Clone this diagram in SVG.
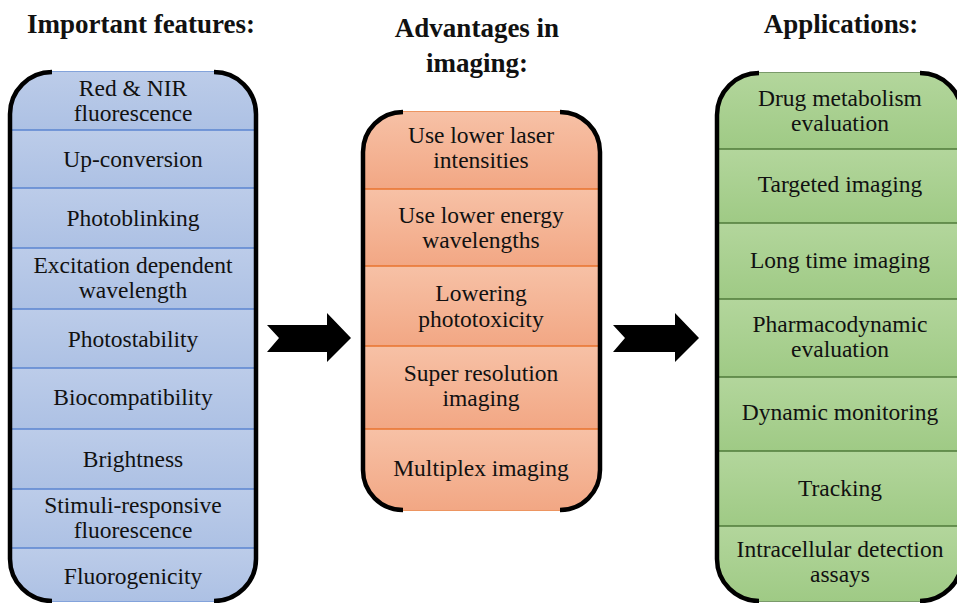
<svg xmlns="http://www.w3.org/2000/svg" width="957" height="603" viewBox="0 0 957 603">
<defs>
<style>
text{font-family:'Liberation Serif','Tinos','DejaVu Serif','Noto Serif',serif;fill:#111;text-anchor:middle}
.t{font-size:23.5px}
.h{font-size:27px;font-weight:bold}
.frame{fill:none;stroke:#000;stroke-width:4.5}
.sb{stroke:#5b85d0;stroke-width:1.5}
.so{stroke:#e8732e;stroke-width:1.5}
.sg{stroke:#4f7a3a;stroke-width:1.5}
.arrow{fill:#000}
</style>
<clipPath id="cl"><rect x="10" y="72" width="246" height="529" rx="42"/></clipPath>
<clipPath id="cm"><rect x="363" y="112" width="237" height="398" rx="40"/></clipPath>
<clipPath id="cr"><rect x="717" y="73" width="245" height="528" rx="42"/></clipPath>
<linearGradient id="gb" x1="0" y1="0" x2="0" y2="1"><stop offset="0" stop-color="#bccce9"/><stop offset="1" stop-color="#adc1e4"/></linearGradient>
<linearGradient id="go" x1="0" y1="0" x2="0" y2="1"><stop offset="0" stop-color="#f7c1a6"/><stop offset="1" stop-color="#f2a784"/></linearGradient>
<linearGradient id="gg" x1="0" y1="0" x2="0" y2="1"><stop offset="0" stop-color="#b3d69c"/><stop offset="1" stop-color="#9fca85"/></linearGradient>
</defs>
<rect width="957" height="603" fill="#fff"/>

<g id="titles">
<text class="h" x="141" y="33">Important features:</text>
<text class="h" x="477" y="37">Advantages in</text>
<text class="h" x="477" y="72">imaging:</text>
<text class="h" x="841" y="33">Applications:</text>
</g>

<g id="col-features">
<rect x="10" y="72" width="246" height="529" rx="42" fill="#b4c7e7" stroke="#5b85d0" stroke-width="1.5"/>
<g clip-path="url(#cl)">
<g id="f1"><rect x="10" y="72" width="246" height="58" fill="url(#gb)"/><text class="t" x="133" y="96">Red &amp; NIR</text><text class="t" x="133" y="121">fluorescence</text></g>
<g id="f2"><rect x="10" y="130" width="246" height="58" fill="url(#gb)"/><line class="sb" x1="10" y1="130" x2="256" y2="130"/><text class="t" x="133" y="167">Up-conversion</text></g>
<g id="f3"><rect x="10" y="188" width="246" height="60" fill="url(#gb)"/><line class="sb" x1="10" y1="188" x2="256" y2="188"/><text class="t" x="133" y="226">Photoblinking</text></g>
<g id="f4"><rect x="10" y="248" width="246" height="61" fill="url(#gb)"/><line class="sb" x1="10" y1="248" x2="256" y2="248"/><text class="t" x="133" y="273">Excitation dependent</text><text class="t" x="133" y="298">wavelength</text></g>
<g id="f5"><rect x="10" y="309" width="246" height="59" fill="url(#gb)"/><line class="sb" x1="10" y1="309" x2="256" y2="309"/><text class="t" x="133" y="347">Photostability</text></g>
<g id="f6"><rect x="10" y="368" width="246" height="61" fill="url(#gb)"/><line class="sb" x1="10" y1="368" x2="256" y2="368"/><text class="t" x="133" y="405">Biocompatibility</text></g>
<g id="f7"><rect x="10" y="429" width="246" height="60" fill="url(#gb)"/><line class="sb" x1="10" y1="429" x2="256" y2="429"/><text class="t" x="133" y="467">Brightness</text></g>
<g id="f8"><rect x="10" y="489" width="246" height="59" fill="url(#gb)"/><line class="sb" x1="10" y1="489" x2="256" y2="489"/><text class="t" x="133" y="513">Stimuli-responsive</text><text class="t" x="133" y="538">fluorescence</text></g>
<g id="f9"><rect x="10" y="548" width="246" height="53" fill="url(#gb)"/><line class="sb" x1="10" y1="548" x2="256" y2="548"/><text class="t" x="133" y="584">Fluorogenicity</text></g>
</g>
<path class="frame" d="M52,72 A42,42 0 0 0 10,114 V559 A42,42 0 0 0 52,601 M214,72 A42,42 0 0 1 256,114 V559 A42,42 0 0 1 214,601"/>
</g>

<g id="col-advantages">
<rect x="363" y="112" width="237" height="398" rx="40" fill="#f4b393" stroke="#e8732e" stroke-width="1.5"/>
<g clip-path="url(#cm)">
<g id="a1"><rect x="363" y="112" width="237" height="77" fill="url(#go)"/><text class="t" x="481" y="143">Use lower laser</text><text class="t" x="481" y="168">intensities</text></g>
<g id="a2"><rect x="363" y="189" width="237" height="77" fill="url(#go)"/><line class="so" x1="363" y1="189" x2="600" y2="189"/><text class="t" x="481" y="223">Use lower energy</text><text class="t" x="481" y="248">wavelengths</text></g>
<g id="a3"><rect x="363" y="266" width="237" height="80" fill="url(#go)"/><line class="so" x1="363" y1="266" x2="600" y2="266"/><text class="t" x="481" y="301">Lowering</text><text class="t" x="481" y="327">phototoxicity</text></g>
<g id="a4"><rect x="363" y="346" width="237" height="83" fill="url(#go)"/><line class="so" x1="363" y1="346" x2="600" y2="346"/><text class="t" x="481" y="381">Super resolution</text><text class="t" x="481" y="406">imaging</text></g>
<g id="a5"><rect x="363" y="429" width="237" height="81" fill="url(#go)"/><line class="so" x1="363" y1="429" x2="600" y2="429"/><text class="t" x="481" y="476">Multiplex imaging</text></g>
</g>
<path class="frame" d="M403,112 A40,40 0 0 0 363,152 V470 A40,40 0 0 0 403,510 M560,112 A40,40 0 0 1 600,152 V470 A40,40 0 0 1 560,510"/>
</g>

<g id="col-applications">
<rect x="717" y="73" width="245" height="528" rx="42" fill="#a9d18e" stroke="#4f7a3a" stroke-width="1.5"/>
<g clip-path="url(#cr)">
<g id="p1"><rect x="717" y="73" width="245" height="76" fill="url(#gg)"/><text class="t" x="840" y="106">Drug metabolism</text><text class="t" x="840" y="131">evaluation</text></g>
<g id="p2"><rect x="717" y="149" width="245" height="74" fill="url(#gg)"/><line class="sg" x1="717" y1="149" x2="962" y2="149"/><text class="t" x="840" y="192">Targeted imaging</text></g>
<g id="p3"><rect x="717" y="223" width="245" height="76" fill="url(#gg)"/><line class="sg" x1="717" y1="223" x2="962" y2="223"/><text class="t" x="840" y="268">Long time imaging</text></g>
<g id="p4"><rect x="717" y="299" width="245" height="78" fill="url(#gg)"/><line class="sg" x1="717" y1="299" x2="962" y2="299"/><text class="t" x="840" y="332">Pharmacodynamic</text><text class="t" x="840" y="357">evaluation</text></g>
<g id="p5"><rect x="717" y="377" width="245" height="74" fill="url(#gg)"/><line class="sg" x1="717" y1="377" x2="962" y2="377"/><text class="t" x="840" y="420">Dynamic monitoring</text></g>
<g id="p6"><rect x="717" y="451" width="245" height="75" fill="url(#gg)"/><line class="sg" x1="717" y1="451" x2="962" y2="451"/><text class="t" x="840" y="496">Tracking</text></g>
<g id="p7"><rect x="717" y="526" width="245" height="75" fill="url(#gg)"/><line class="sg" x1="717" y1="526" x2="962" y2="526"/><text class="t" x="840" y="557">Intracellular detection</text><text class="t" x="840" y="582">assays</text></g>
</g>
<path class="frame" d="M759,73 A42,42 0 0 0 717,115 V559 A42,42 0 0 0 759,601 M920,73 A42,42 0 0 1 962,115 V559 A42,42 0 0 1 920,601"/>
</g>

<g id="connectors">
<polygon class="arrow" points="267,325 327,325 327,313 351,338 327,362 327,352 267,352 279,338"/>
<polygon class="arrow" points="613,325 675,325 675,313 699,338 675,362 675,352 613,352 625,338"/>
</g>
</svg>
